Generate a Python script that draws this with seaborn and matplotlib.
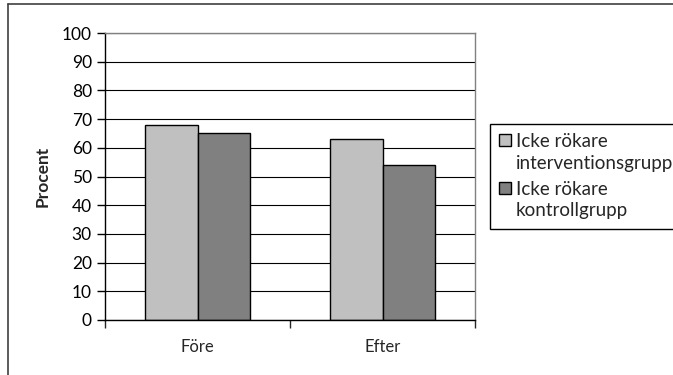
import matplotlib
matplotlib.use("Agg")
import matplotlib.pyplot as plt
import matplotlib.lines as mlines
import pandas as pd
import seaborn as sns

# data
periods = ["Före", "Efter"]
groups = ["Icke rökare\ninterventionsgrupp", "Icke rökare\nkontrollgrupp"]
interventionsgrupp = [68, 63]
kontrollgrupp = [65, 54]
yticks = [0, 10, 20, 30, 40, 50, 60, 70, 80, 90, 100]

df = pd.DataFrame({
    "period": periods * 2,
    "grupp": [groups[0]] * len(periods) + [groups[1]] * len(periods),
    "procent": interventionsgrupp + kontrollgrupp,
})

sns.set_style("white")
plt.rcParams["font.family"] = ["Lato", "DejaVu Sans"]

fig = plt.figure(figsize=(6.73, 3.75), dpi=100)
ax = fig.add_axes([105 / 673, 1 - 320 / 375, 370 / 673, 287 / 375])

sns.barplot(
    data=df, x="period", y="procent", hue="grupp", ax=ax,
    palette=["#c0c0c0", "#808080"], edgecolor="black", linewidth=1,
    width=0.57, saturation=1, legend=True,
)

ax.set_ylim(0, 100)
ax.set_xlim(-0.5, 1.5)
ax.set_yticks(yticks)
ax.yaxis.grid(True, color="black", linewidth=0.8)
ax.set_axisbelow(True)
ax.tick_params(axis="y", direction="out", length=6, width=1, left=True,
               labelsize=12.5, pad=3.5, colors="black")
ax.tick_params(axis="x", length=0, labelsize=12, pad=14)
# category boundary ticks on the x-axis
ax.set_xticks([-0.5, 0.5, 1.5], minor=True)
ax.tick_params(axis="x", which="minor", direction="out", length=6, width=1,
               bottom=True)

ax.set_xlabel("")
ax.set_ylabel("Procent", fontsize=12.5, fontweight="bold", labelpad=8)

for s in ["left", "bottom"]:
    ax.spines[s].set_color("black")
    ax.spines[s].set_linewidth(1)
for s in ["top", "right"]:
    ax.spines[s].set_color("#808080")
    ax.spines[s].set_linewidth(1)

handles, labels = ax.get_legend_handles_labels()
ax.get_legend().remove()
leg = fig.legend(
    handles, labels, loc="upper left",
    bbox_to_anchor=(490 / 673, 1 - 124 / 375),
    frameon=True, fancybox=False, edgecolor="black", framealpha=1,
    fontsize=13.5, handlelength=0.62, handleheight=0.62, handletextpad=0.25,
    labelspacing=0.5, borderpad=0.5, borderaxespad=0,
)
leg.get_frame().set_linewidth(1)
for t in leg.get_texts():
    t.set_linespacing(1.3)
for h in leg.legend_handles:
    h.set_edgecolor("black")
    # line the square up with the first text line, as in the reference
    h.set_y(h.get_y() + 9)

# outer chart border (clipped on right and bottom in the reference)
fig.add_artist(mlines.Line2D([8 / 673, 8 / 673], [0, 1 - 4 / 375],
                             color="#404040", linewidth=1.2))
fig.add_artist(mlines.Line2D([8 / 673, 1], [1 - 4 / 375, 1 - 4 / 375],
                             color="#404040", linewidth=1.2))

fig.savefig("out.png", dpi=100)
